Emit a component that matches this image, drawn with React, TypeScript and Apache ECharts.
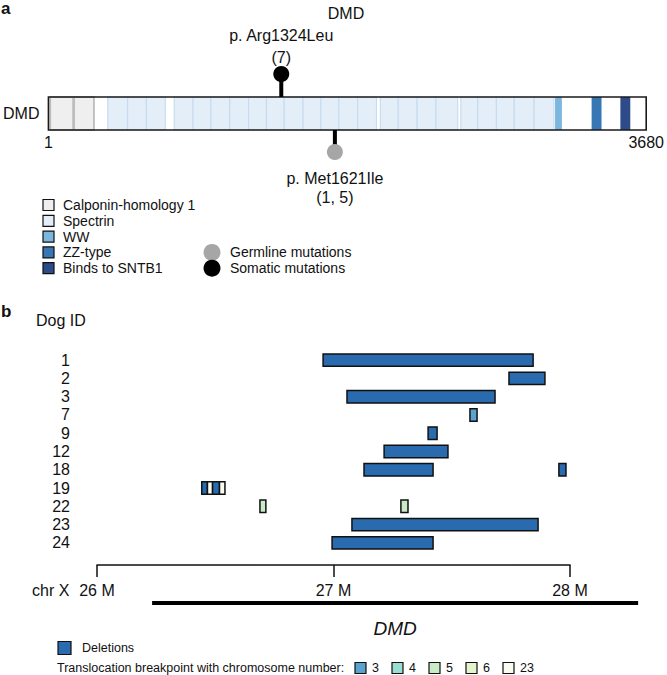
import React, { useEffect, useRef } from 'react';
import * as echarts from 'echarts';

const FONT = '"Liberation Sans", Arial, Helvetica, sans-serif';
const INK = '#111111';

// ---------- Panel a: protein ----------
const proteinName = 'DMD';
const proteinSpan = [1, 3680];
const proteinTickLabels = [1, 3680];
const chDomains = [[12, 153], [159, 281]];
const spectrinRepeats = [
  [366, 488], [488, 604], [604, 720],
  [775, 891], [891, 1001], [1001, 1117], [1117, 1233], [1233, 1343], [1343, 1452],
  [1452, 1568], [1568, 1678], [1678, 1788], [1788, 1904], [1904, 2020],
  [2044, 2154], [2154, 2270], [2270, 2386], [2386, 2520],
  [2539, 2643], [2643, 2758], [2758, 2868], [2868, 2990], [2990, 3112],
];
const wwDomains = [[3119, 3161]];
const zzDomains = [[3344, 3405]];
const sntb1Domains = [[3521, 3582]];
const domainNames = ['Calponin-homology 1', 'Spectrin', 'WW', 'ZZ-type', 'Binds to SNTB1'];
const domainColors = ['#efefef', '#e3eef9', '#7bb6dc', '#3677b4', '#2d4a89'];
const domainStrokes = ['#bdbdbd', '#c9dcef', null, null, null];

const mutationNames = ['p. Arg1324Leu', 'p. Met1621Ile'];
const mutationCounts = ['(7)', '(1, 5)'];
const mutationPositions = [1434, 1764];
const mutationTypes = ['somatic', 'germline'];
const mutationTypeNames = ['Germline mutations', 'Somatic mutations'];
const mutationTypeColors = ['#a6a6a6', '#000000'];

// ---------- Panel b: chromosome X ----------
const dogIds = ['1', '2', '3', '7', '9', '12', '18', '19', '22', '23', '24'];
const deletions: [string, number, number][] = [
  ['1', 26.956, 27.844],
  ['2', 27.742, 27.894],
  ['3', 27.057, 27.683],
  ['9', 27.400, 27.438],
  ['12', 27.214, 27.484],
  ['18', 27.129, 27.421],
  ['18', 27.953, 27.983],
  ['19', 26.443, 26.467],
  ['19', 26.488, 26.518],
  ['23', 27.078, 27.865],
  ['24', 26.994, 27.421],
];
const translocations: [string, number, number, number][] = [
  ['7', 27.577, 27.607, 3],
  ['19', 26.467, 26.488, 23],
  ['19', 26.518, 26.541, 23],
  ['22', 26.689, 26.714, 5],
  ['22', 27.285, 27.315, 5],
];
const chrTicks = [26, 27, 28];
const geneName = 'DMD';
const geneSpan = [26.233, 28.288];
const deletionColor = '#2a6bb0';
const chromosomes = [3, 4, 5, 6, 23];
const chromosomeColors = ['#5aa2cf', '#9bdcd3', '#c9ecc6', '#e4f4cd', '#fbfbef'];

function textEl(text: string, x: number, y: number, size: number, opts: any = {}) {
  return {
    type: 'text',
    x,
    y,
    style: {
      text,
      x: 0,
      y: 0,
      font: `${opts.italic ? 'italic ' : ''}${opts.weight || 'normal'} ${size}px ${FONT}`,
      fill: opts.fill || INK,
      textAlign: opts.align || 'left',
      align: opts.align || 'left',
      textVerticalAlign: 'middle',
      verticalAlign: 'middle',
    },
  };
}

export default function App() {
  const ref = useRef<HTMLDivElement>(null);

  useEffect(() => {
    if (!ref.current) return;
    const chart = echarts.init(ref.current, undefined, { renderer: 'svg' });

    const domainData: any[] = [];
    chDomains.forEach((d) => domainData.push([d[0], d[1], 0, 0]));
    spectrinRepeats.forEach((d) => domainData.push([d[0], d[1], 0, 1]));
    wwDomains.forEach((d) => domainData.push([d[0], d[1], 0, 2]));
    zzDomains.forEach((d) => domainData.push([d[0], d[1], 0, 3]));
    sntb1Domains.forEach((d) => domainData.push([d[0], d[1], 0, 4]));

    const delData = deletions.map((d) => [d[1], d[2], dogIds.indexOf(d[0])]);
    const trData = translocations.map((d) => [d[1], d[2], dogIds.indexOf(d[0]), chromosomes.indexOf(d[3])]);

    const graphics: any[] = [];
    graphics.push(textEl('a', 1, 8, 17, { weight: 'bold' }));
    graphics.push(textEl(proteinName, 346, 13, 16, { align: 'center' }));
    const rowY = domainNames.map((_, i) => 205 + i * 15.8);
    domainNames.forEach((n, i) => {
      graphics.push({
        type: 'rect',
        shape: { x: 43, y: rowY[i] - 5.5, width: 11, height: 11 },
        style: { fill: domainColors[i], stroke: INK, lineWidth: 1.2 },
      });
      graphics.push(textEl(n, 63, rowY[i], 14));
    });
    mutationTypeNames.forEach((n, i) => {
      graphics.push({
        type: 'circle',
        shape: { cx: 212, cy: rowY[3 + i], r: 8.5 },
        style: { fill: mutationTypeColors[i] },
      });
      graphics.push(textEl(n, 230, rowY[3 + i], 14));
    });
    graphics.push(textEl('b', 1, 311, 17, { weight: 'bold' }));
    graphics.push(textEl('Dog ID', 36, 320, 16));
    graphics.push(textEl('chr X', 32, 590, 16));
    graphics.push({
      type: 'rect',
      shape: { x: 58, y: 641.5, width: 13, height: 13 },
      style: { fill: deletionColor, stroke: INK, lineWidth: 1.2 },
    });
    graphics.push(textEl('Deletions', 82, 648, 12.5));
    graphics.push(textEl('Translocation breakpoint with chromosome number:', 57, 668, 12.5));
    chromosomes.forEach((c, i) => {
      const bx = 355 + i * 37;
      graphics.push({
        type: 'rect',
        shape: { x: bx, y: 662.5, width: 11, height: 11 },
        style: { fill: chromosomeColors[i], stroke: INK, lineWidth: 1.2 },
      });
      graphics.push(textEl(String(c), bx + 17, 668, 12.5));
    });

    const option: any = {
      animation: false,
      grid: [
        { left: 45, width: 603, top: 97, height: 33 },
        { left: 97, width: 473, top: 351, height: 201 },
      ],
      xAxis: [
        {
          gridIndex: 0,
          type: 'value',
          min: proteinSpan[0],
          max: proteinSpan[1],
          axisLine: { show: false },
          axisTick: { show: false },
          splitLine: { show: false },
          axisLabel: {
            customValues: proteinTickLabels,
            formatter: (v: number) => String(v),
            fontSize: 16,
            color: INK,
            fontFamily: FONT,
            margin: 4,
          },
        },
        {
          gridIndex: 1,
          type: 'value',
          min: chrTicks[0],
          max: chrTicks[chrTicks.length - 1],
          interval: 1,
          offset: 13,
          axisLine: { show: true, lineStyle: { color: INK, width: 1.5 } },
          axisTick: { show: true, length: 12, lineStyle: { color: INK, width: 1.5 } },
          splitLine: { show: false },
          axisLabel: {
            formatter: (v: number) => `${v} M`,
            fontSize: 16,
            color: INK,
            fontFamily: FONT,
            margin: 17,
          },
        },
      ],
      yAxis: [
        {
          gridIndex: 0,
          type: 'category',
          data: [proteinName],
          axisLine: { show: false },
          axisTick: { show: false },
          axisLabel: { fontSize: 16, color: INK, fontFamily: FONT, margin: 9 },
        },
        {
          gridIndex: 1,
          type: 'category',
          data: dogIds,
          inverse: true,
          axisLine: { show: false },
          axisTick: { show: false },
          axisLabel: { interval: 0, fontSize: 16, color: INK, fontFamily: FONT, margin: 27 },
        },
      ],
      graphic: graphics,
      series: [
        {
          type: 'custom',
          xAxisIndex: 0,
          yAxisIndex: 0,
          encode: { x: [0, 1], y: 2 },
          data: domainData,
          renderItem: (params: any, api: any) => {
            const p1 = api.coord([api.value(0), 0]);
            const p2 = api.coord([api.value(1), 0]);
            const h = api.size([0, 1])[1];
            const k = api.value(3);
            const stroke = domainStrokes[k];
            return {
              type: 'rect',
              shape: { x: p1[0], y: p1[1] - h / 2, width: p2[0] - p1[0], height: h },
              style: stroke
                ? { fill: domainColors[k], stroke, lineWidth: k === 0 ? 1.8 : 1.2 }
                : { fill: domainColors[k] },
            };
          },
        },
        {
          type: 'custom',
          xAxisIndex: 0,
          yAxisIndex: 0,
          encode: { x: [0, 1], y: 2 },
          data: [[proteinSpan[0], proteinSpan[1], 0]],
          renderItem: (params: any, api: any) => {
            const p1 = api.coord([api.value(0), 0]);
            const p2 = api.coord([api.value(1), 0]);
            const h = api.size([0, 1])[1];
            return {
              type: 'rect',
              shape: { x: p1[0], y: p1[1] - h / 2, width: p2[0] - p1[0], height: h },
              style: { fill: 'none', stroke: '#1a1a1a', lineWidth: 1.6 },
            };
          },
        },
        {
          type: 'custom',
          xAxisIndex: 0,
          yAxisIndex: 0,
          encode: { x: 0, y: 1 },
          data: mutationPositions.map((p) => [p, 0]),
          renderItem: (params: any, api: any) => {
            const i = params.dataIndex;
            const c = api.coord([api.value(0), 0]);
            const h = api.size([0, 1])[1];
            const x = c[0];
            const top = c[1] - h / 2;
            const bottom = c[1] + h / 2;
            const somatic = mutationTypes[i] === 'somatic';
            const color = somatic ? mutationTypeColors[1] : mutationTypeColors[0];
            const children: any[] = [];
            if (somatic) {
              children.push({ type: 'rect', shape: { x: x - 2, y: top - 16, width: 4, height: 16 }, style: { fill: '#000' } });
              children.push({ type: 'circle', shape: { cx: x, cy: top - 23, r: 8 }, style: { fill: color } });
              children.push(textEl(mutationCounts[i], x, top - 40, 16, { align: 'center' }));
              children.push(textEl(mutationNames[i], x, top - 62, 16, { align: 'center' }));
            } else {
              children.push({ type: 'rect', shape: { x: x - 2, y: bottom, width: 4, height: 16 }, style: { fill: '#000' } });
              children.push({ type: 'circle', shape: { cx: x, cy: bottom + 22, r: 8 }, style: { fill: color } });
              children.push(textEl(mutationNames[i], x, bottom + 48, 16, { align: 'center' }));
              children.push(textEl(mutationCounts[i], x, bottom + 67, 16, { align: 'center' }));
            }
            return { type: 'group', children };
          },
        },
        {
          type: 'custom',
          xAxisIndex: 1,
          yAxisIndex: 1,
          encode: { x: [0, 1], y: 2 },
          data: delData,
          renderItem: (params: any, api: any) => {
            const p1 = api.coord([api.value(0), api.value(2)]);
            const p2 = api.coord([api.value(1), api.value(2)]);
            const h = api.size([0, 1])[1] * 0.68;
            return {
              type: 'rect',
              shape: { x: p1[0], y: p1[1] - h / 2, width: p2[0] - p1[0], height: h },
              style: { fill: deletionColor, stroke: INK, lineWidth: 1.5 },
            };
          },
        },
        {
          type: 'custom',
          xAxisIndex: 1,
          yAxisIndex: 1,
          encode: { x: [0, 1], y: 2 },
          data: trData,
          renderItem: (params: any, api: any) => {
            const p1 = api.coord([api.value(0), api.value(2)]);
            const p2 = api.coord([api.value(1), api.value(2)]);
            const h = api.size([0, 1])[1] * 0.68;
            return {
              type: 'rect',
              shape: { x: p1[0], y: p1[1] - h / 2, width: p2[0] - p1[0], height: h },
              style: { fill: chromosomeColors[api.value(3)], stroke: INK, lineWidth: 1.5 },
            };
          },
        },
        {
          type: 'custom',
          xAxisIndex: 1,
          yAxisIndex: 1,
          encode: { x: [0, 1], y: 2 },
          data: [[geneSpan[0], geneSpan[1], 0]],
          renderItem: (params: any, api: any) => {
            const cs = params.coordSys;
            const p1 = api.coord([api.value(0), 0]);
            const p2 = api.coord([api.value(1), 0]);
            const yb = cs.y + cs.height;
            return {
              type: 'group',
              children: [
                { type: 'rect', shape: { x: p1[0], y: yb + 49, width: p2[0] - p1[0], height: 4 }, style: { fill: '#000' } },
                textEl(geneName, (p1[0] + p2[0]) / 2, yb + 76, 19, { align: 'center', italic: true }),
              ],
            };
          },
        },
      ],
    };
    chart.setOption(option);
    return () => chart.dispose();
  }, []);

  return (
    <div
      ref={ref}
      style={{ position: 'fixed', left: 0, top: 0, width: 667, height: 675, background: '#fff' }}
    />
  );
}
